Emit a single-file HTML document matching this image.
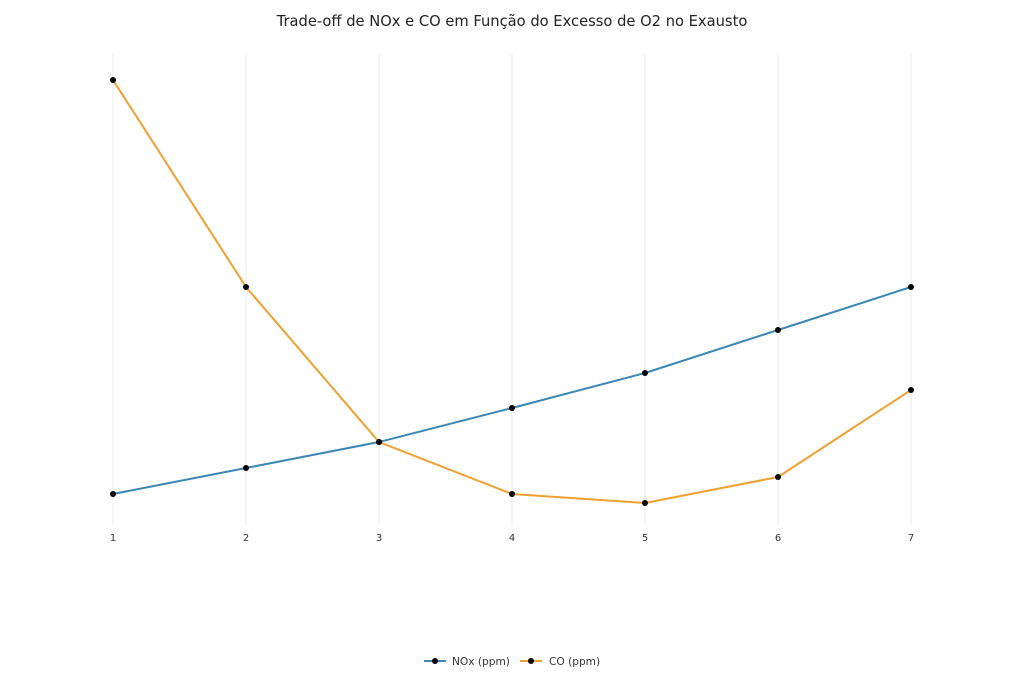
<!DOCTYPE html>
<html><head><meta charset="utf-8"><style>body{margin:0;background:#fff}svg{display:block}</style></head><body>
<svg width="1024" height="683" xmlns="http://www.w3.org/2000/svg" font-family="'DejaVu Sans','Liberation Sans',sans-serif">
<rect width="1024" height="683" fill="#fff"/>
<text x="512" y="26" text-anchor="middle" font-size="14.7" fill="#222">Trade-off de NOx e CO em Função do Excesso de O2 no Exausto</text>
<g stroke="#ebebeb" stroke-width="1">
<line x1="113" y1="54" x2="113" y2="525"/><line x1="246" y1="54" x2="246" y2="525"/><line x1="379" y1="54" x2="379" y2="525"/><line x1="512" y1="54" x2="512" y2="525"/><line x1="645" y1="54" x2="645" y2="525"/><line x1="778" y1="54" x2="778" y2="525"/><line x1="911" y1="54" x2="911" y2="525"/>
</g>
<g font-size="10" fill="#333" text-anchor="middle">
<text x="113" y="541">1</text><text x="246" y="541">2</text><text x="379" y="541">3</text><text x="512" y="541">4</text><text x="645" y="541">5</text><text x="778" y="541">6</text><text x="911" y="541">7</text>
</g>
<polyline fill="none" stroke="#3a87b5" stroke-width="2" points="113,494 246,468 379,442 512,408 645,373 778,330 911,287"/>
<polyline fill="none" stroke="#f0a030" stroke-width="2" points="113,80 246,287 379,442 512,494 645,503 778,477 911,390"/>
<g fill="#000">
<circle cx="113" cy="494" r="3"/><circle cx="246" cy="468" r="3"/><circle cx="379" cy="442" r="3"/><circle cx="512" cy="408" r="3"/><circle cx="645" cy="373" r="3"/><circle cx="778" cy="330" r="3"/><circle cx="911" cy="287" r="3"/>
<circle cx="113" cy="80" r="3"/><circle cx="246" cy="287" r="3"/><circle cx="379" cy="442" r="3"/><circle cx="512" cy="494" r="3"/><circle cx="645" cy="503" r="3"/><circle cx="778" cy="477" r="3"/><circle cx="911" cy="390" r="3"/>
</g>
<line x1="424" y1="661" x2="446" y2="661" stroke="#3a87b5" stroke-width="2"/><circle cx="435" cy="661" r="3" fill="#000"/>
<text x="452" y="665" font-size="10.6" fill="#333">NOx (ppm)</text>
<line x1="520" y1="661" x2="542" y2="661" stroke="#f0a030" stroke-width="2"/><circle cx="531" cy="661" r="3" fill="#000"/>
<text x="549" y="665" font-size="10.6" fill="#333">CO (ppm)</text>
</svg>
</body></html>
